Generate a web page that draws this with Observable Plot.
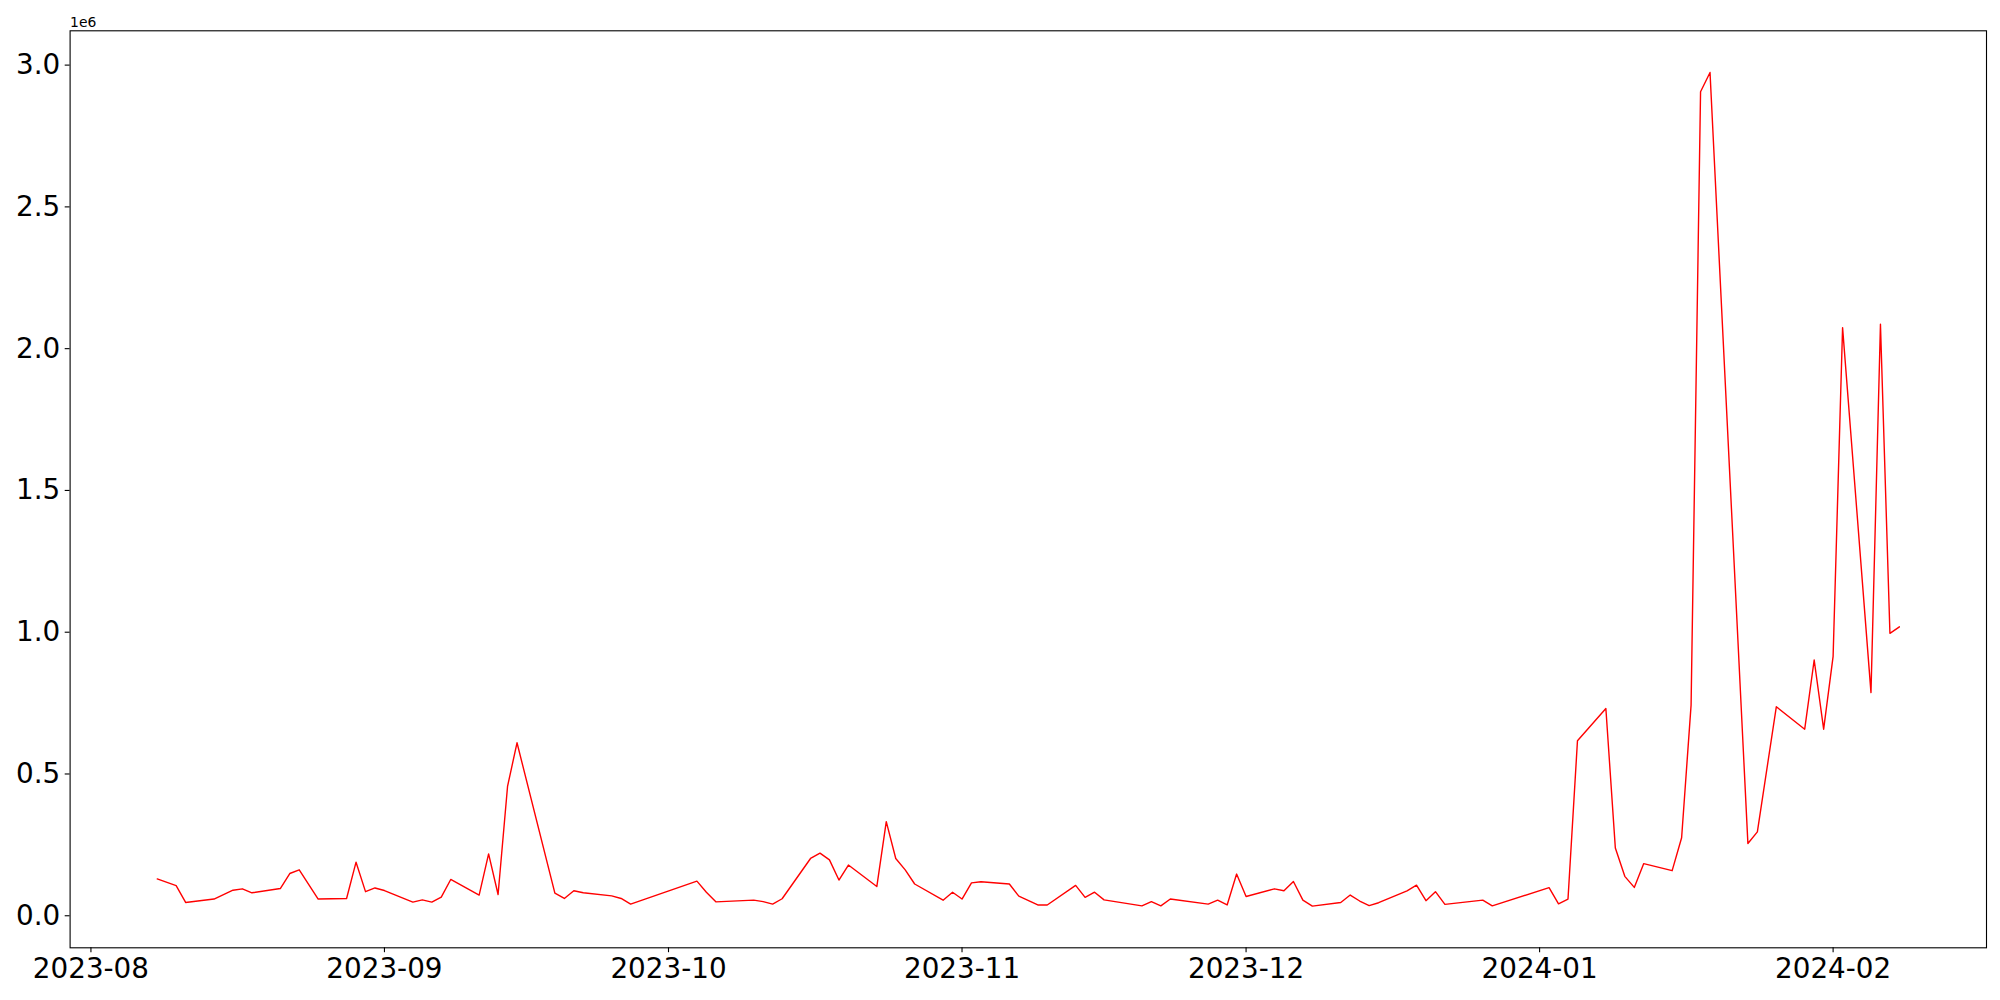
<!DOCTYPE html>
<html>
<head>
<meta charset="utf-8">
<script src="https://cdn.jsdelivr.net/npm/d3@7"></script>
<script src="https://cdn.jsdelivr.net/npm/@observablehq/plot@0.6"></script>
<style>
  html, body { margin: 0; padding: 0; background: white; }
  #chart { width: 2000px; height: 1000px; }
</style>
</head>
<body>
<div id="chart"></div>
<script>
// Dates (business days) and values (in millions, × 1e6)
const dates = [
  "2023-08-08","2023-08-10","2023-08-11","2023-08-14","2023-08-16","2023-08-17","2023-08-18",
  "2023-08-21","2023-08-22","2023-08-23","2023-08-25","2023-08-28","2023-08-29","2023-08-30",
  "2023-08-31","2023-09-01","2023-09-04","2023-09-05","2023-09-06","2023-09-07","2023-09-08",
  "2023-09-11","2023-09-12","2023-09-13","2023-09-14","2023-09-15","2023-09-19","2023-09-20",
  "2023-09-21","2023-09-22","2023-09-25","2023-09-26","2023-09-27","2023-10-04","2023-10-05",
  "2023-10-06","2023-10-10","2023-10-11","2023-10-12","2023-10-13","2023-10-16","2023-10-17",
  "2023-10-18","2023-10-19","2023-10-20","2023-10-23","2023-10-24","2023-10-25","2023-10-26",
  "2023-10-27","2023-10-30","2023-10-31","2023-11-01","2023-11-02","2023-11-03","2023-11-06",
  "2023-11-07","2023-11-09","2023-11-10","2023-11-13","2023-11-14","2023-11-15","2023-11-16",
  "2023-11-20","2023-11-21","2023-11-22","2023-11-23","2023-11-27","2023-11-28","2023-11-29",
  "2023-11-30","2023-12-01","2023-12-04","2023-12-05","2023-12-06","2023-12-07","2023-12-08",
  "2023-12-11","2023-12-12","2023-12-13","2023-12-14","2023-12-15","2023-12-18","2023-12-19",
  "2023-12-20","2023-12-21","2023-12-22","2023-12-26","2023-12-27","2024-01-02","2024-01-03",
  "2024-01-04","2024-01-05","2024-01-08","2024-01-09","2024-01-10","2024-01-11","2024-01-12",
  "2024-01-15","2024-01-16","2024-01-17","2024-01-18","2024-01-19","2024-01-23","2024-01-24",
  "2024-01-26","2024-01-29","2024-01-30","2024-01-31","2024-02-01","2024-02-02","2024-02-05",
  "2024-02-06","2024-02-07","2024-02-08"
];
const valuesM = [
  0.130,0.106,0.047,0.059,0.090,0.095,0.081,
  0.096,0.149,0.162,0.059,0.061,0.189,0.085,
  0.098,0.089,0.048,0.056,0.048,0.066,0.128,
  0.073,0.218,0.075,0.456,0.610,0.080,0.061,
  0.088,0.081,0.070,0.061,0.041,0.122,0.083,
  0.049,0.055,0.050,0.041,0.060,0.202,0.221,
  0.197,0.126,0.179,0.103,0.332,0.202,0.162,
  0.112,0.055,0.083,0.059,0.116,0.120,0.112,
  0.069,0.038,0.038,0.107,0.065,0.083,0.056,
  0.035,0.050,0.035,0.059,0.041,0.055,0.038,
  0.147,0.068,0.095,0.088,0.121,0.055,0.034,
  0.047,0.073,0.052,0.036,0.046,0.088,0.108,
  0.053,0.085,0.040,0.055,0.035,0.099,0.042,
  0.059,0.617,0.731,0.239,0.139,0.100,0.184,
  0.159,0.275,0.743,2.906,2.974,0.255,0.296,
  0.737,0.658,0.902,0.658,0.915,2.074,0.787,
  2.086,0.996,1.019
];
const xTickLabels = ["2023-08","2023-09","2023-10","2023-11","2023-12","2024-01","2024-02"];
const yTickValues = [0, 0.5e6, 1.0e6, 1.5e6, 2.0e6, 2.5e6, 3.0e6];

const data = dates.map((d, i) => ({date: new Date(d + "T00:00:00Z"), value: valuesM[i] * 1e6}));
const xTicks = xTickLabels.map(s => new Date(s + "-01T00:00:00Z"));

// matplotlib-like 5% margins
const [x0, x1] = d3.extent(data, d => +d.date);
const [y0, y1] = d3.extent(data, d => d.value);
const xm = (x1 - x0) * 0.05, ym = (y1 - y0) * 0.05;

const chart = Plot.plot({
  width: 2000,
  height: 1000,
  marginLeft: 69.6,
  marginRight: 14,
  marginTop: 30.3,
  marginBottom: 52.7,
  style: {fontFamily: "DejaVu Sans", fontSize: "27.8px", background: "white", color: "black", overflow: "visible"},
  x: {type: "utc", domain: [new Date(x0 - xm), new Date(x1 + xm)]},
  y: {domain: [y0 - ym, y1 + ym]},
  marks: [
    Plot.lineY(data, {x: "date", y: "value", stroke: "red", strokeWidth: 1.4}),
    Plot.frame({stroke: "black", strokeWidth: 1.1}),
    Plot.axisX({ticks: xTicks, tickFormat: d3.utcFormat("%Y-%m"), tickSize: 4.9, tickPadding: 6, label: null, strokeWidth: 1.1}),
    Plot.axisY({ticks: yTickValues, tickFormat: d => (d / 1e6).toFixed(1), tickSize: 4.9, tickPadding: 5, label: null, strokeWidth: 1.1}),
    Plot.text(["1e6"], {frameAnchor: "top-left", text: d => d, dy: -4, lineAnchor: "bottom", textAnchor: "start", fontSize: 13.9})
  ]
});
document.getElementById("chart").appendChild(chart);
</script>
</body>
</html>
